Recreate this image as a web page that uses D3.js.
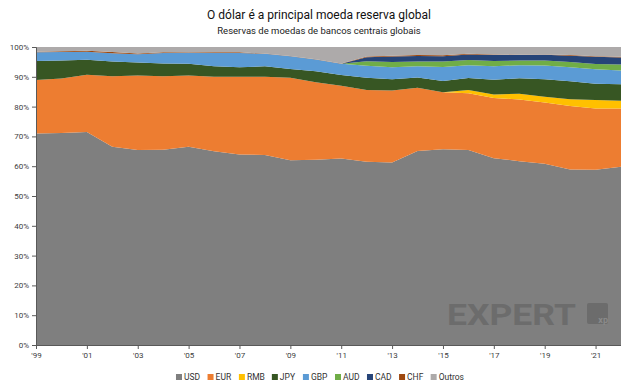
<!DOCTYPE html>
<html>
<head>
<meta charset="utf-8">
<script src="https://cdn.jsdelivr.net/npm/d3@7"></script>
<style>
  body { margin: 0; background: #fff; }
  svg { font-family: Roboto, "Noto Sans", sans-serif; }
</style>
</head>
<body>
<svg id="chart" width="638" height="392"></svg>
<script>
// values, % of allocated reserves
let years  = [1999,2000,2001,2002,2003,2004,2005,2006,2007,2008,2009,2010,2011,2012,2013,2014,2015,2016,2017,2018,2019,2020,2021,2022];
let usd    = [71.0,71.1,71.5,66.5,65.4,65.5,66.5,65.0,63.9,63.8,62.0,62.2,62.6,61.5,61.2,65.1,65.7,65.4,62.7,61.7,60.8,58.9,58.8,59.8];
let eur    = [17.9,18.3,19.2,23.7,25.0,24.7,23.9,25.0,26.1,26.2,27.7,26.0,24.4,24.1,24.2,21.2,19.1,19.1,20.2,20.7,20.6,21.3,20.6,19.6];
let rmb    = [0,0,0,0,0,0,0,0,0,0,0,0,0,0,0,0,0,1.1,1.2,1.9,1.9,2.3,2.8,2.6];
let jpy    = [6.4,6.1,5.0,4.9,4.4,4.3,4.0,3.5,3.2,3.5,2.9,3.7,3.6,4.1,3.8,3.5,3.8,4.0,4.9,5.2,5.9,6.0,5.5,5.5];
let gbp    = [2.9,2.8,2.7,2.8,2.8,3.5,3.7,4.5,4.8,4.2,4.3,3.9,3.8,4.0,4.0,3.7,4.7,4.3,4.5,4.4,4.6,4.7,4.8,4.6];
let aud    = [0,0,0,0,0,0,0,0,0,0,0,0,0,1.5,1.8,1.6,1.8,1.7,1.8,1.6,1.7,1.8,1.8,2.0];
let cad    = [0,0,0,0,0,0,0,0,0,0,0,0,0,1.4,1.8,1.9,1.8,1.9,2.0,1.8,1.9,2.1,2.4,2.4];
let chf    = [0.2,0.3,0.3,0.4,0.2,0.2,0.1,0.2,0.2,0.1,0.1,0.1,0.1,0.2,0.3,0.3,0.3,0.2,0.2,0.1,0.1,0.2,0.2,0.2];
let outros = [1.6,1.4,1.3,1.7,2.2,1.8,1.8,1.8,1.8,2.2,3.0,4.1,5.5,3.2,2.9,2.7,2.8,2.3,2.5,2.6,2.5,2.7,3.1,3.3];

let keys   = ["USD","EUR","RMB","JPY","GBP","AUD","CAD","CHF","Outros"];
let series = [usd, eur, rmb, jpy, gbp, aud, cad, chf, outros];
let colors = ["#7f7f7f","#ed7d31","#ffc000","#375623","#5b9bd5","#70ad47","#264478","#9e480e","#adaaaa"];
let xTicks = [1999,2001,2003,2005,2007,2009,2011,2013,2015,2017,2019,2021];
let yTicks = [0,10,20,30,40,50,60,70,80,90,100];

let width = 638,
    height = 392,
    margins = {top: 47, bottom: 47, left: 36, right: 17};

let rows = years.map((yr, i) => {
    let r = {year: yr};
    keys.forEach((k, j) => r[k] = series[j][i]);
    return r;
});

let svg = d3.select("#chart");

let x = d3.scaleLinear()
    .domain(d3.extent(years))
    .range([margins.left, width - margins.right]);
let y = d3.scaleLinear()
    .domain([0, 100])
    .range([height - margins.bottom, margins.top]);

let stacked = d3.stack().keys(keys)(rows);

let area = d3.area()
    .x(d => x(d.data.year))
    .y0(d => y(d[0]))
    .y1(d => y(Math.min(100, d[1])));

svg.append("g")
    .selectAll("path")
    .data(stacked)
    .enter()
    .append("path")
    .attr("d", area)
    .attr("fill", (d, i) => colors[i]);

// logo on top of the gray area
let logo = svg.append("g").attr("fill", "#6c6c6c");
logo.append("text")
    .attr("x", 447)
    .attr("y", 325)
    .attr("font-size", 30)
    .attr("font-weight", 700)
    .attr("textLength", 129)
    .attr("lengthAdjust", "spacingAndGlyphs")
    .text("EXPERT");
logo.append("rect")
    .attr("x", 587).attr("y", 303)
    .attr("width", 21).attr("height", 21)
    .attr("rx", 2);
logo.append("text")
    .attr("x", 608).attr("y", 323)
    .attr("text-anchor", "end")
    .attr("font-size", 9)
    .attr("font-weight", 700)
    .attr("fill", "#8a8a8a")
    .text("xp");

// axes
let yAxis = d3.axisLeft(y)
    .tickValues(yTicks)
    .tickSize(4)
    .tickFormat(d => d + "%");
let xAxis = d3.axisBottom(x)
    .tickValues(xTicks)
    .tickSize(4)
    .tickFormat(d => "'" + String(d).slice(2));

let gy = svg.append("g")
    .attr("transform", `translate(${margins.left},0)`)
    .call(yAxis);
let gx = svg.append("g")
    .attr("transform", `translate(0,${height - margins.bottom})`)
    .call(xAxis);

[gx, gy].forEach(g => {
    g.select(".domain").attr("stroke", "#595959");
    g.selectAll(".tick line").attr("stroke", "#595959");
    g.selectAll(".tick text")
        .attr("fill", "#404040")
        .attr("font-size", 8)
        .attr("font-family", "Roboto, sans-serif");
});
gx.select(".domain").attr("d", `M${margins.left},0.5H${width - margins.right}`);
gx.selectAll(".tick text").attr("dy", "0.9em").attr("y", 6);
gy.selectAll(".tick text").attr("x", -7);

// titles
svg.append("text")
    .attr("x", width / 2).attr("y", 19)
    .attr("text-anchor", "middle")
    .attr("font-size", 12)
    .attr("font-weight", 400)
    .attr("fill", "#111")
    .text("O dólar é a principal moeda reserva global");
svg.append("text")
    .attr("x", width / 2).attr("y", 34)
    .attr("text-anchor", "middle")
    .attr("font-size", 9.5)
    .attr("fill", "#222")
    .text("Reservas de moedas de bancos centrais globais");

// legend
let legend = svg.append("g").attr("font-size", 8.5).attr("fill", "#333");
let items = legend.selectAll("g")
    .data(keys)
    .enter()
    .append("g");
items.append("rect")
    .attr("width", 6).attr("height", 6)
    .attr("y", -6)
    .attr("fill", (d, i) => colors[i]);
items.append("text")
    .attr("x", 8)
    .text(d => d);

let lx = 0;
items.each(function () {
    let w = this.getBBox().width;
    d3.select(this).attr("transform", `translate(${lx},380)`);
    lx += w + 7;
});
let total = lx - 7;
legend.attr("transform", `translate(${(width - total) / 2 + 1},0)`);
</script>
</body>
</html>
